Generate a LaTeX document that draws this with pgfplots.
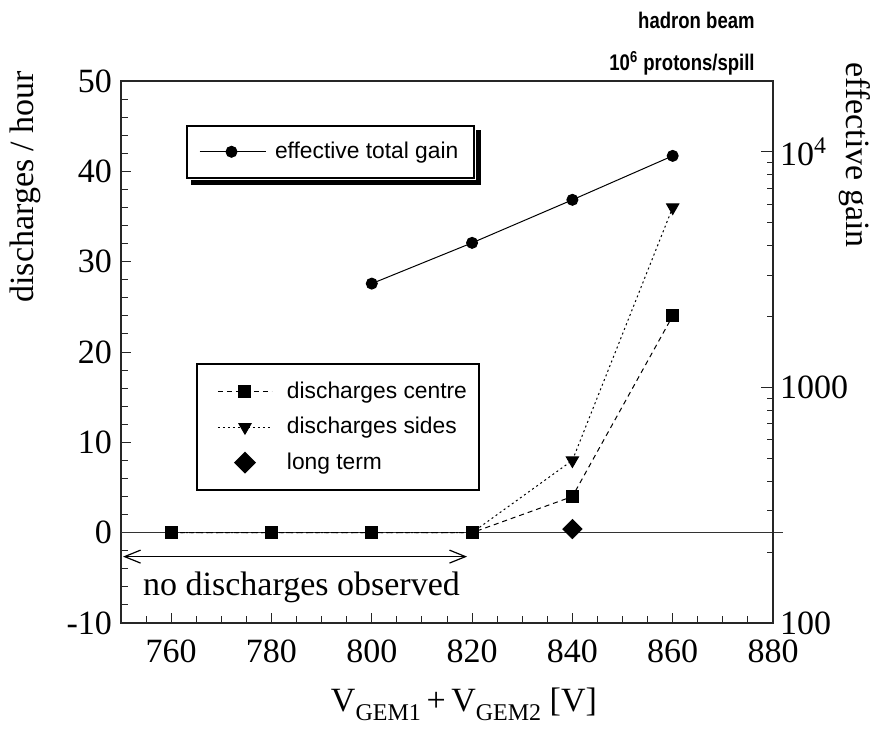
\documentclass[border=0pt]{standalone}
\usepackage{fontspec}
\setmainfont{Liberation Serif}
\newfontfamily\arial{Liberation Sans}
\newfontfamily\arialnarrow[FakeStretch=0.82]{Liberation Sans}
\usepackage{pgfplots}
\pgfplotsset{compat=1.18}
\usetikzlibrary{arrows.meta}

\begin{document}
\begin{tikzpicture}
\useasboundingbox (-60.5pt,-56.5pt) rectangle (384pt,311.5pt);
\pgfplotsset{
  every axis/.append style={
    scale only axis, width=326pt, height=271pt,
    at={(0pt,0pt)}, anchor=south west,
    xmin=750, xmax=880,
    axis line style={black!85, line width=0.6pt},
    tick style={black!85, line width=0.5pt},
    tick label style={font=\fontsize{17}{19}\selectfont},
    label style={font=\fontsize{17}{19}\selectfont},
    /pgf/number format/assume math mode=true,
    /pgf/number format/set thousands separator={},
  },
  cen/.style={black, line width=0.5pt, dash pattern=on 2.5pt off 2pt, mark=square*, mark size=3pt, mark options={solid}},
  sid/.style={black, line width=0.5pt, dash pattern=on 1pt off 1.5pt, mark=triangle*, mark size=3.5pt, mark options={solid, rotate=180}},
  lng/.style={black, only marks, mark=square*, mark size=3.4pt, mark options={rotate=45}},
}

% discharge rates, left axis
\begin{axis}[
  ymin=-10, ymax=50,
  xtick={760,780,...,880}, minor xtick={750,755,...,880},
  ytick={-10,0,...,50}, minor ytick={-10,-8,...,50},
  xtick pos=bottom, ytick pos=left,
  tick align=inside,
  major tick length=5pt, minor tick length=3.5pt,
  xticklabel style={yshift=-5pt},
  yticklabel style={xshift=-1pt},
  xlabel={V\raisebox{-4.5pt}{\fontsize{12}{12}\selectfont GEM1}\,+\,V\raisebox{-4.5pt}{\fontsize{12}{12}\selectfont GEM2} [V]},
  xlabel style={at={(axis description cs:0.526,-0.15)}, anchor=center},
  ylabel={discharges / hour},
  ylabel style={at={(axis description cs:-0.147,0.805)}, anchor=center},
  legend style={at={(0.115,0.48)}, anchor=north west, draw=black, line width=1pt,
    font=\arial\fontsize{11.4}{13}\selectfont, row sep=4pt,
    inner xsep=4pt, inner ysep=7pt},
  legend cell align=left,
  legend image code/.code={\path (-6pt,0pt); \draw[mark repeat=2,mark phase=2,#1] plot coordinates {(0pt,0pt) (13.5pt,0pt) (27pt,0pt)}; \path (32pt,0pt);},
  clip=false,
]
\addplot[forget plot, black!80, line width=0.6pt] coordinates {(750,0) (882,0)};
\addplot[forget plot, sid, mark indices={5,6}] coordinates {
  (760,0) (780,0) (800,0) (820,0) (840,8) (860,36)};
\addplot[forget plot, cen] coordinates {
  (760,0) (780,0) (800,0) (820,0) (840,4) (860,24)};
\addplot[forget plot, lng] coordinates {(840,0.4)};
\addlegendimage{cen}
\addlegendentry{discharges centre}
\addlegendimage{sid}
\addlegendentry{discharges sides}
\addlegendimage{lng}
\addlegendentry{long term}
\draw[black, line width=0.6pt, {Straight Barb[length=8pt,width=6.5pt]}-{Straight Barb[length=8pt,width=6.5pt]}]
  (axis cs:750.4,-2.65) -- (axis cs:819,-2.65);
\node[font=\fontsize{17}{19}\selectfont] at (axis cs:786,-6.1) {no discharges observed};
\end{axis}

% effective gain, right axis
\begin{axis}[
  ymode=log, ymin=100, ymax=20000,
  axis y line*=right, axis x line=none,
  ytick={100,1000,10000}, yticklabels={100,1000,10\textsuperscript{4}},
  tick align=inside,
  major tick length=6pt, minor tick length=3pt,
  ylabel={effective gain},
  ylabel style={at={(axis description cs:1.126,0.863)}, anchor=center, rotate=180},
  legend style={at={(0.0997,0.9188)}, anchor=north west, draw=black, line width=1pt, fill=white,
    name=gainleg,
    font=\arial\fontsize{11.4}{13}\selectfont,
    inner xsep=6pt, inner ysep=6pt},
  legend image code/.code={\draw[mark repeat=2,mark phase=2,#1] plot coordinates {(0pt,0pt) (16pt,0pt) (33pt,0pt)}; \path (35.5pt,0pt);},
]
\addplot[black, line width=0.5pt, mark=*, mark size=2.75pt] coordinates {
  (800,2760) (820,4110) (840,6260) (860,9620)};
\addlegendentry{effective total gain}
\end{axis}

% shadow of the gain legend box
\fill[black] ([xshift=2.5pt,yshift=-3pt]gainleg.south west) rectangle ([xshift=3pt,yshift=-0.5pt]gainleg.south east);
\fill[black] ([xshift=0.5pt,yshift=-3pt]gainleg.south east) rectangle ([xshift=3pt,yshift=-2.5pt]gainleg.north east);

\node[anchor=east, inner sep=0pt, font=\arialnarrow\bfseries\fontsize{11.3}{13}\selectfont] at (317pt,301.5pt) {hadron beam};
\node[anchor=east, inner sep=0pt, font=\arialnarrow\bfseries\fontsize{11.3}{13}\selectfont] at (317pt,280pt) {10\textsuperscript{6} protons/spill};
\end{tikzpicture}
\end{document}
